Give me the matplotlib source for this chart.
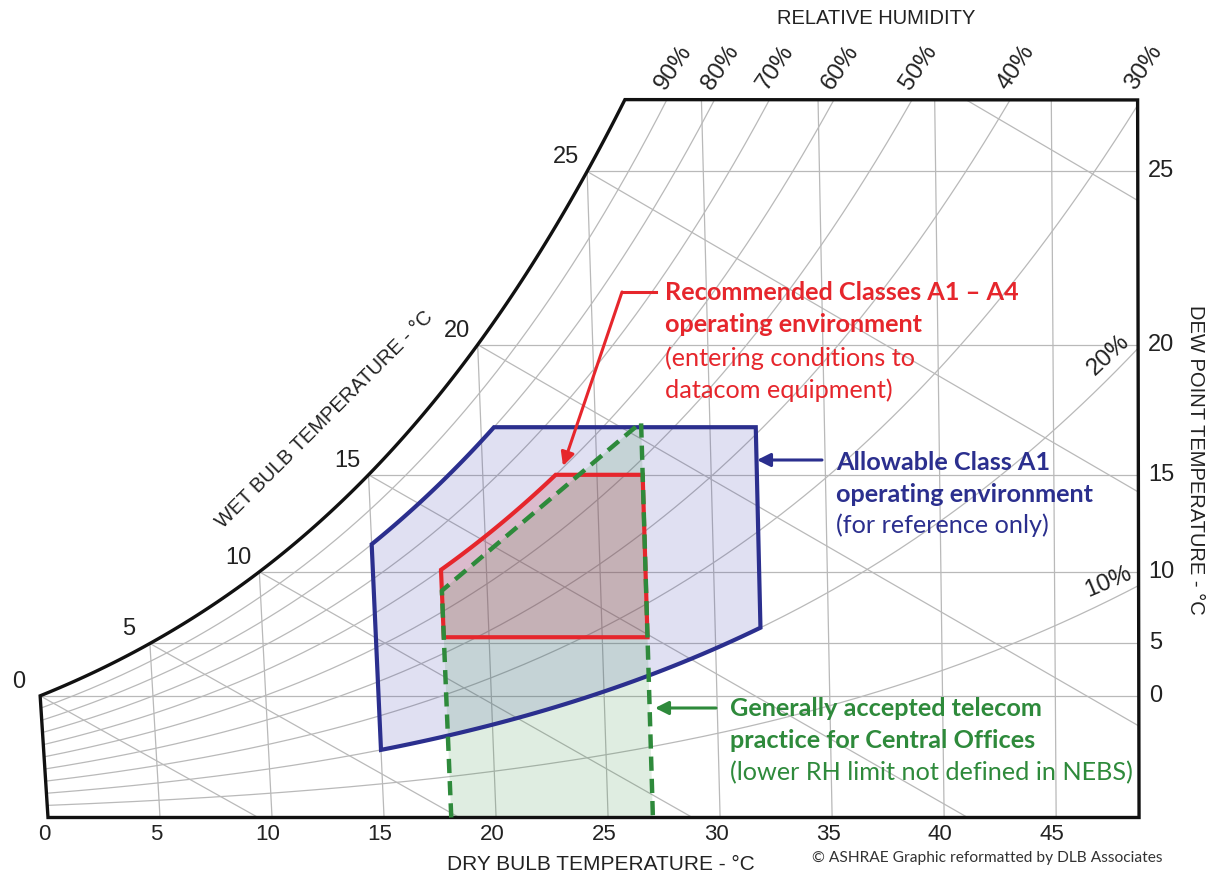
import numpy as np
import matplotlib.pyplot as plt
from matplotlib.patches import Polygon

# chart frame
P_atm = 101.325     # kPa, sea level chart
db_max = 48.7       # right edge (dry bulb, degC)
w_top = 22.25       # top edge (humidity ratio, g/kg)

db_ticks = [0, 5, 10, 15, 20, 25, 30, 35, 40, 45]
dp_ticks = [0, 5, 10, 15, 20, 25]
wb_lines = [0, 5, 10, 15, 20, 25, 30]
wb_labels = [0, 5, 10, 15, 20, 25]
rh_lines = [10, 20, 30, 40, 50, 60, 70, 80, 90]
rh_top_labels = [90, 80, 70, 60, 50, 40, 30]
rh_side_labels = [20, 10]

# envelopes (dry bulb degC, dew point degC, RH %)
rec_db = [18, 27]
rec_dp = [5.5, 15]
rec_rh_max = 60
a1_db = [15, 32]
a1_rh = [20, 80]
a1_dp_max = 17
tel_db = [18, 27]
tel_rh_max = 55

RED = '#e6262c'
BLUE = '#2b2f8e'
GREEN = '#2e8a3b'
GRID = '#b9b9b9'
NUM_FONT = ['Liberation Sans', 'DejaVu Sans']
CALLOUT_FONT = ['Lato', 'DejaVu Sans']


def psat(t):
    return 0.61094 * np.exp(17.625 * t / (t + 243.04))


def t_psat(p):
    a = np.log(p / 0.61094)
    return 243.04 * a / (17.625 - a)


def w_pw(pw):
    return 622 * pw / (P_atm - pw)


def pw_w(w):
    return w * P_atm / (622 + w)


def w_rh(t, rh):
    return w_pw(rh / 100 * psat(t))


def w_dp(dp):
    return w_pw(psat(dp))


def cx(t, w):
    # chart abscissa, dry bulb lines lean a little like on the ASHRAE chart
    return 1.006 * t + w / 1000 * (1.86 * t - 93.5)


def to_chart(t, w):
    t = np.asarray(t, dtype=float)
    w = np.asarray(w, dtype=float) * np.ones_like(t)
    return np.column_stack([cx(t, w), w])


def rh_edge(rh, t0, t1, n=40):
    tt = np.linspace(t0, t1, n)
    return to_chart(tt, w_rh(tt, rh))


fig = plt.figure(figsize=(12.1, 8.77), dpi=100)
ax = fig.add_axes([0, 0, 1, 1])
ax.set_xlim(-48 / 22.27, (1210 - 48) / 22.27)
ax.set_ylim((817.5 - 877) / 32.25, 817.5 / 32.25)
ax.axis('off')


def fp(x, y):
    # layout position given in picture pixels -> figure fraction
    return (x / 1210, 1 - y / 877)


# --- chart outline ---
ts = np.linspace(0, 30, 3001)
t_top = ts[np.argmax(w_rh(ts, 100) >= w_top)]
sat = rh_edge(100, 0, t_top, 120)
outline = np.vstack([to_chart([0], [0]), sat,
                     to_chart([db_max], [w_top]), to_chart([db_max], [0])])
clip = Polygon(outline, closed=True, fill=False, lw=2.4, ec='#111111',
               zorder=6, joinstyle='miter')
ax.add_patch(clip)


def grid_line(pts):
    ln, = ax.plot(pts[:, 0], pts[:, 1], color=GRID, lw=0.9, zorder=1)
    ln.set_clip_path(clip)


for t in db_ticks[1:]:
    w_end = min(w_rh(t, 100), w_top)
    grid_line(to_chart([t, t], [0, w_end]))

for dp in dp_ticks:
    w = w_dp(dp)
    grid_line(to_chart([dp, db_max], [w, w]))

for rh in rh_lines:
    grid_line(rh_edge(rh, 0, db_max, 200))

for twb in wb_lines:
    ws = w_rh(twb, 100) / 1000
    t_end = twb + (2501 - 2.326 * twb) * ws / 1.006
    tt = np.linspace(twb, t_end, 60)
    ww = ((2501 - 2.326 * twb) * ws - 1.006 * (tt - twb)) / (2501 + 1.86 * tt - 4.186 * twb)
    grid_line(to_chart(tt, ww * 1000))

# --- envelopes ---
# allowable A1
w_a1_top = w_dp(a1_dp_max)
t80 = t_psat(pw_w(w_a1_top) / (a1_rh[1] / 100))
a1 = np.vstack([to_chart([a1_db[0]], [w_rh(a1_db[0], a1_rh[0])]),
                rh_edge(a1_rh[1], a1_db[0], t80),
                to_chart([a1_db[1]], [w_a1_top]),
                rh_edge(a1_rh[0], a1_db[1], a1_db[0])])
# telecom (upper edge drawn as a straight chord in the original)
tel = np.vstack([to_chart([tel_db[0]], [0]),
                 rh_edge(tel_rh_max, tel_db[0], tel_db[1], 2),
                 to_chart([tel_db[1]], [0])])
# recommended
w_lo, w_hi = w_dp(rec_dp[0]), w_dp(rec_dp[1])
t60 = t_psat(pw_w(w_hi) / (rec_rh_max / 100))
rec = np.vstack([to_chart(rec_db, [w_lo, w_lo]),
                 to_chart([rec_db[1]], [w_hi]),
                 rh_edge(rec_rh_max, t60, rec_db[0])])

ax.add_patch(Polygon(a1, closed=True, fc='#3434a8', alpha=0.15, ec='none', zorder=2))
ax.add_patch(Polygon(tel, closed=True, fc='#2e8a3b', alpha=0.15, ec='none', zorder=2))
ax.add_patch(Polygon(rec, closed=True, fc='#c82a3a', alpha=0.2, ec='none', zorder=2))
ax.add_patch(Polygon(a1, closed=True, fill=False, ec=BLUE, lw=3, zorder=7, joinstyle='miter'))
ax.add_patch(Polygon(rec, closed=True, fill=False, ec=RED, lw=3, zorder=8, joinstyle='miter'))
ax.plot(tel[:, 0], tel[:, 1], color=GREEN, lw=3.2, ls=(0, (3.2, 1.8)), zorder=9)

# --- scale labels ---
for t in db_ticks:
    ax.annotate(str(t), (cx(t, 0), 0), xytext=(-4, -17), textcoords='offset pixels',
                ha='center', va='center', fontsize=16, family=NUM_FONT, color='#222222')

for dp in dp_ticks:
    ax.annotate(str(dp), (cx(db_max, w_dp(dp)), w_dp(dp)), xytext=(10, 0),
                textcoords='offset pixels', ha='left', va='center',
                fontsize=17, family=NUM_FONT, color='#222222')

for twb in wb_labels:
    ws = w_rh(twb, 100)
    ax.annotate(str(twb), (cx(twb, ws), ws), xytext=(-21, 14), textcoords='offset pixels',
                ha='center', va='center', fontsize=17, family=NUM_FONT, color='#222222')

for rh in rh_top_labels:
    t_cross = min(t_psat(pw_w(w_top) / (rh / 100)), db_max)
    ax.annotate(f'{rh}%', (cx(t_cross, w_top), w_top), xytext=(2, 6),
                textcoords='offset pixels', ha='left', va='bottom', rotation=56,
                rotation_mode='anchor', fontsize=17.5, family=NUM_FONT, color='#222222')

for rh, rot, dy in zip(rh_side_labels, [43, 23], [2, 3]):
    w = w_rh(db_max, rh)
    ax.annotate(f'{rh}%', (cx(db_max, w), w), xytext=(-4, dy), textcoords='offset pixels',
                ha='right', va='bottom', rotation=rot, rotation_mode='anchor',
                fontsize=17.5, family=NUM_FONT, color='#222222')

# --- axis titles ---
fig.text(*fp(876, 18), 'RELATIVE HUMIDITY', ha='center', va='center',
         fontsize=14.5, family=NUM_FONT, color='#222222')
fig.text(*fp(601, 864), 'DRY BULB TEMPERATURE - °C', ha='center', va='center',
         fontsize=15, family=NUM_FONT, color='#222222')
fig.text(*fp(1195, 460), 'DEW POINT TEMPERATURE - °C', ha='center', va='center',
         rotation=-90, fontsize=14.5, family=NUM_FONT, color='#222222')
fig.text(*fp(325, 420), 'WET BULB TEMPERATURE - °C', ha='center', va='center',
         rotation=45, fontsize=14.5, family=NUM_FONT, color='#222222')
fig.text(*fp(812, 858), '© ASHRAE Graphic reformatted by DLB Associates', ha='left',
         va='center', fontsize=11.2, family=CALLOUT_FONT, color='#333333')

# --- callouts ---
red_lines = [('Recommended Classes A1 – A4', 'bold', 292), ('operating environment', 'bold', 325),
             ('(entering conditions to', 'normal', 358), ('datacom equipment)', 'normal', 390)]
blue_lines = [('Allowable Class A1', 'bold', 462), ('operating environment', 'bold', 494),
              ('(for reference only)', 'normal', 525)]
green_lines = [('Generally accepted telecom', 'bold', 709), ('practice for Central Offices', 'bold', 741),
               ('(lower RH limit not defined in NEBS)', 'normal', 773)]

for lines, x0, col in [(red_lines, 665, RED), (blue_lines, 836, BLUE), (green_lines, 730, GREEN)]:
    for txt, wt, y in lines:
        fig.text(*fp(x0, y), txt, ha='left', va='center', fontsize=18.2,
                 fontweight=wt, family=CALLOUT_FONT, color=col)

arrow = dict(arrowstyle='-|>', lw=2.2, mutation_scale=20, shrinkA=0, shrinkB=0)
ax.plot(*zip(fp(656, 292), fp(622, 292)), transform=fig.transFigure, color=RED, lw=2.2, zorder=10)
ax.annotate('', xy=fp(563, 466), xytext=fp(622, 292), xycoords='figure fraction',
            arrowprops=dict(arrow, color=RED), zorder=10)
ax.annotate('', xy=fp(757, 460), xytext=fp(822, 460), xycoords='figure fraction',
            arrowprops=dict(arrow, color=BLUE), zorder=10)
ax.annotate('', xy=fp(655, 708), xytext=fp(716, 708), xycoords='figure fraction',
            arrowprops=dict(arrow, color=GREEN), zorder=10)

fig.savefig('out.png', dpi=100, facecolor='white')
